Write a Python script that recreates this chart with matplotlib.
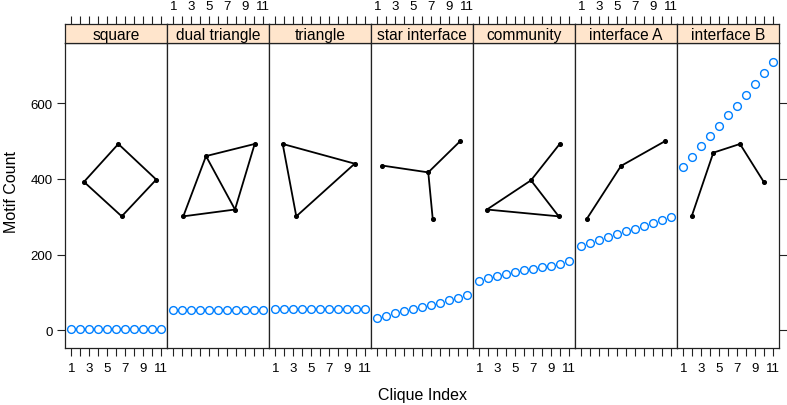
import matplotlib
matplotlib.use("Agg")
import matplotlib.pyplot as plt

plt.rcParams['font.family'] = ['Liberation Sans', 'DejaVu Sans']

panels = ["square", "dual triangle", "triangle", "star interface",
          "community", "interface A", "interface B"]
clique_index = list(range(1, 12))
counts = {
    "square":         [3, 3, 3, 3, 3, 3, 3, 3, 3, 3, 3],
    "dual triangle":  [53, 53, 53, 53, 53, 53, 53, 53, 53, 53, 53],
    "triangle":       [57, 57, 57, 57, 57, 57, 57, 57, 57, 57, 57],
    "star interface": [33, 39, 45, 52, 57, 63, 67, 73, 79, 85, 93],
    "community":      [131, 138, 143, 150, 155, 160, 163, 167, 171, 175, 182],
    "interface A":    [223, 231, 239, 247, 254, 262, 268, 276, 284, 292, 300],
    "interface B":    [430, 458, 486, 513, 540, 568, 592, 622, 649, 679, 709],
}

# motif drawings: node positions (x in clique-index units, y in count units) and edges
motif_nodes = {
    "square":         [(6.26, 492), (2.42, 392), (6.64, 301), (10.5, 398)],
    "dual triangle":  [(4.66, 460), (10.1, 492), (7.9, 319), (2.12, 301)],
    "triangle":       [(1.83, 492), (9.88, 440), (3.35, 301)],
    "star interface": [(6.7, 417), (1.56, 435), (10.25, 499), (7.2, 294)],
    "community":      [(1.86, 319), (6.78, 396), (9.99, 492), (9.88, 301)],
    "interface A":    [(1.61, 294), (5.44, 434), (10.33, 499)],
    "interface B":    [(1.94, 301), (4.36, 469), (7.34, 492), (10.02, 391)],
}
motif_edges = {
    "square":         [(0, 1), (1, 2), (2, 3), (3, 0)],
    "dual triangle":  [(0, 1), (1, 2), (2, 3), (3, 0), (0, 2)],
    "triangle":       [(0, 1), (1, 2), (2, 0)],
    "star interface": [(0, 1), (0, 2), (0, 3)],
    "community":      [(0, 1), (1, 2), (1, 3), (0, 3)],
    "interface A":    [(0, 1), (1, 2)],
    "interface B":    [(0, 1), (1, 2), (2, 3)],
}
y_ticks = [0, 200, 400, 600]
x_ticks = list(range(1, 12))
x_labels = ["1", "", "3", "", "5", "", "7", "", "9", "", "11"]

W, H = 787, 406
fig = plt.figure(figsize=(W / 100, H / 100), dpi=100)

left_px, pw = 65, 102
top_px, strip_h, bot_px = 25, 19, 349
ymin = 3 - 0.07 * 706
ymax = 709 + 0.07 * 706
xlim = (1 - 0.07 * 10, 11 + 0.07 * 10)
edge = '#222222'
tick_fs = 9.5

for i, name in enumerate(panels):
    x0 = (left_px + i * pw) / W
    ax = fig.add_axes([x0, 1 - bot_px / H, pw / W, (bot_px - top_px - strip_h) / H])
    sx = fig.add_axes([x0, 1 - (top_px + strip_h) / H, pw / W, strip_h / H])
    ax.set_xlim(*xlim)
    ax.set_ylim(ymin, ymax)
    sx.set_xlim(*xlim)
    sx.set_ylim(0, 1)
    sx.set_facecolor('#ffe5cc')
    for a in (ax, sx):
        for s in a.spines.values():
            s.set_color(edge)
            s.set_linewidth(0.9)
    sx.text(0.5, 0.45, name, transform=sx.transAxes, ha='center', va='center',
            fontsize=11.2, color='black')

    # motif drawing
    nodes = motif_nodes[name]
    for a_, b_ in motif_edges[name]:
        ax.plot([nodes[a_][0], nodes[b_][0]], [nodes[a_][1], nodes[b_][1]],
                color='black', lw=1.3, solid_capstyle='round', zorder=2)
    ax.scatter([n[0] for n in nodes], [n[1] for n in nodes], s=7, color='black', zorder=3)

    # data points
    ax.plot(clique_index, counts[name], linestyle='none', marker='o', markersize=5.6,
            markerfacecolor='none', markeredgecolor='#0080ff', markeredgewidth=1.0, zorder=4)

    # bottom ticks
    ax.set_xticks(x_ticks)
    if i % 2 == 0:
        ax.set_xticklabels(x_labels)
    else:
        ax.set_xticklabels([])
    ax.tick_params(axis='x', direction='out', length=5.5, width=0.8, color=edge,
                   labelsize=tick_fs, pad=4.5)
    # top ticks on strip
    sx.set_xticks(x_ticks)
    sx.xaxis.tick_top()
    if i % 2 == 1:
        sx.set_xticklabels(x_labels)
    else:
        sx.set_xticklabels([])
    sx.tick_params(axis='x', direction='out', length=5.5, width=0.8, color=edge,
                   labelsize=tick_fs, pad=3)
    sx.set_yticks([])

    ax.set_yticks(y_ticks)
    if i == 0:
        ax.tick_params(axis='y', direction='out', length=5.5, width=0.8, color=edge,
                       labelsize=tick_fs, pad=3.5, left=True, right=False)
    elif i == len(panels) - 1:
        ax.yaxis.tick_right()
        ax.set_yticklabels([])
        ax.tick_params(axis='y', direction='out', length=5.5, width=0.8, color=edge,
                       left=False, right=True)
    else:
        ax.tick_params(axis='y', left=False, right=False, labelleft=False)

fig.text(12 / W, 1 - 192 / H, "Motif Count", rotation=90, ha='center', va='center', fontsize=11.5)
fig.text(422 / W, 1 - 396 / H, "Clique Index", ha='center', va='center', fontsize=11.5)

fig.savefig("out.png", dpi=100)
